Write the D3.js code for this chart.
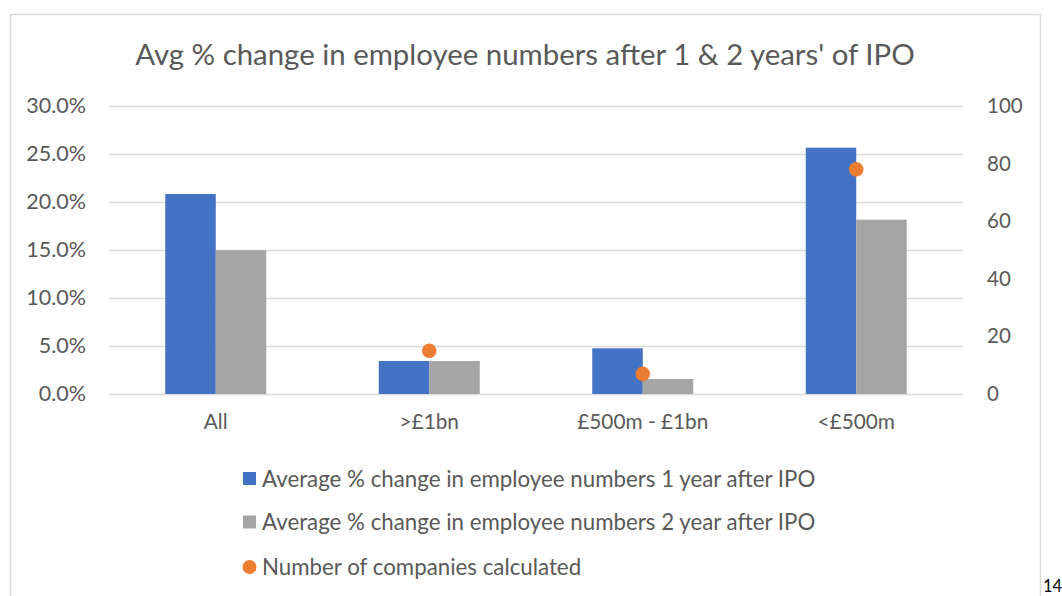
<!DOCTYPE html>
<html>
<head>
<meta charset="utf-8">
<script src="https://cdn.jsdelivr.net/npm/d3@7"></script>
<style>
  body { margin: 0; background: #fff; }
  text { font-family: Lato, "Open Sans", sans-serif; fill: #595959; }
</style>
</head>
<body>
<div id="chart"></div>
<script>
const categories = ["All", ">£1bn", "£500m - £1bn", "<£500m"];
const change1yr = [0.2083, 0.0344, 0.0476, 0.2566];
const change2yr = [0.1497, 0.0344, 0.0156, 0.1816];
const companies = [null, 15, 7, 78];
const leftTicks = [0, 0.05, 0.1, 0.15, 0.2, 0.25, 0.3];
const rightTicks = [0, 20, 40, 60, 80, 100];
const seriesNames = [
  "Average % change in employee numbers 1 year after IPO",
  "Average % change in employee numbers 2 year after IPO",
  "Number of companies calculated"
];

const width = 1062,
  height = 596;
const plotLeft = 109,
  plotRight = 963,
  plotTop = 106,
  plotBottom = 394;

const svg = d3
  .select("#chart")
  .append("svg")
  .attr("width", width)
  .attr("height", height);

svg.append("rect").attr("width", width).attr("height", height).attr("fill", "#fff");

// chart frame (bottom edge is cut off by the picture)
svg
  .append("rect")
  .attr("x", 10.5)
  .attr("y", 14.5)
  .attr("width", 1030)
  .attr("height", 620)
  .attr("fill", "none")
  .attr("stroke", "#d9d9d9")
  .attr("stroke-width", 1.5);

svg
  .append("text")
  .attr("x", 525)
  .attr("y", 65)
  .attr("text-anchor", "middle")
  .style("font-size", "29.4px")
  .text("Avg % change in employee numbers after 1 & 2 years' of IPO");

const x = d3.scaleBand().domain(categories).range([plotLeft, plotRight]);
const bw = x.bandwidth();
const x1 = d3
  .scaleBand()
  .domain([0, 1])
  .range([bw / 2 - 50.5, bw / 2 + 50.5]);

const y = d3.scaleLinear().domain([0, 0.3]).range([plotBottom, plotTop]);
const y2 = d3.scaleLinear().domain([0, 100]).range([plotBottom, plotTop]);

// left axis + gridlines
const gl = svg
  .append("g")
  .attr("transform", `translate(${plotLeft},0)`)
  .call(
    d3
      .axisLeft(y)
      .tickValues(leftTicks)
      .tickFormat(d3.format(".1%"))
      .tickSize(-(plotRight - plotLeft))
      .tickPadding(23)
  );
gl.select(".domain").remove();
gl.selectAll("line").attr("stroke", "#d9d9d9").attr("stroke-width", 1.5);
gl.selectAll("text").style("font-size", "21.5px").attr("fill", "#595959");

const gr = svg
  .append("g")
  .attr("transform", `translate(${plotRight},0)`)
  .call(d3.axisRight(y2).tickValues(rightTicks).tickSize(0).tickPadding(24));
gr.select(".domain").remove();
gr.selectAll("text").style("font-size", "20.5px").attr("fill", "#595959");

const gx = svg
  .append("g")
  .attr("transform", `translate(0,${plotBottom})`)
  .call(d3.axisBottom(x).tickSize(0).tickPadding(20));
gx.select(".domain").remove();
gx.selectAll("text").style("font-size", "20.8px").attr("fill", "#595959");

const colors = ["#4472c4", "#a5a5a5"];
[change1yr, change2yr].forEach((vals, s) => {
  svg
    .append("g")
    .selectAll("rect")
    .data(vals)
    .enter()
    .append("rect")
    .attr("x", (d, i) => x(categories[i]) + x1(s))
    .attr("y", (d) => y(d))
    .attr("width", x1.bandwidth())
    .attr("height", (d) => y(0) - y(d))
    .attr("fill", colors[s]);
});

svg
  .append("g")
  .selectAll("circle")
  .data(companies.map((v, i) => ({ v, c: categories[i] })).filter((d) => d.v != null))
  .enter()
  .append("circle")
  .attr("cx", (d) => x(d.c) + bw / 2)
  .attr("cy", (d) => y2(d.v))
  .attr("r", 7.3)
  .attr("fill", "#ed7d31");

// legend
const legendY = [478.5, 522, 567];
const lg = svg.append("g");
seriesNames.forEach((name, i) => {
  if (i < 2) {
    lg.append("rect")
      .attr("x", 243)
      .attr("y", legendY[i] - 6.5)
      .attr("width", 13)
      .attr("height", 13)
      .attr("fill", colors[i]);
  } else {
    lg.append("circle")
      .attr("cx", 249.5)
      .attr("cy", legendY[i])
      .attr("r", 7)
      .attr("fill", "#ed7d31");
  }
  lg.append("text")
    .attr("x", 262)
    .attr("y", legendY[i])
    .attr("dy", "0.36em")
    .style("font-size", "22.3px")
    .text(name);
});

svg
  .append("text")
  .attr("x", 1043)
  .attr("y", 592)
  .style("font-size", "16.5px")
  .style("fill", "#000")
  .text("14");
</script>
</body>
</html>
